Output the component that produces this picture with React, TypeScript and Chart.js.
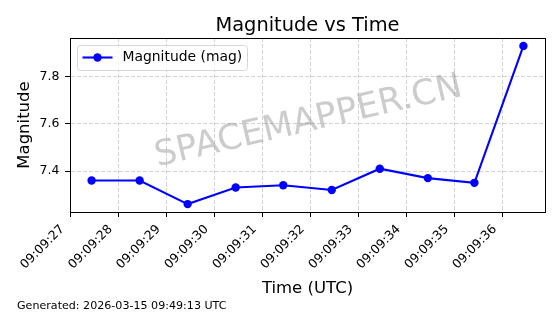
import { useEffect, useRef } from 'react';
import { Chart, registerables } from 'chart.js';

Chart.register(...registerables);

// ---- data ----
const chartTitle = 'Magnitude vs Time';
const seriesLabel = 'Magnitude (mag)';
const xAxisTitle = 'Time (UTC)';
const yAxisTitle = 'Magnitude';
const footerText = 'Generated: 2026-03-15 09:49:13 UTC';
const watermarkText = 'SPACEMAPPER.CN';
// seconds after 09:09:00 UTC
const timeSeconds = [27.44, 28.44, 29.44, 30.44, 31.43, 32.44, 33.44, 34.44, 35.41, 36.43];
const magnitudes = [7.36, 7.36, 7.26, 7.33, 7.34, 7.32, 7.41, 7.37, 7.35, 7.93];
const xTickSeconds = [27, 28, 29, 30, 31, 32, 33, 34, 35, 36];
const xTickLabels = ['09:09:27', '09:09:28', '09:09:29', '09:09:30', '09:09:31', '09:09:32', '09:09:33', '09:09:34', '09:09:35', '09:09:36'];
const yTickValues = [7.4, 7.6, 7.8];
const yTickLabels = ['7.4', '7.6', '7.8'];

const FONT = "'DejaVu Sans', sans-serif";
const BLUE = '#0000ff';
const GRID = 'rgba(180,180,180,0.75)';

function paddedRange(vals: number[]) {
  const lo = Math.min(...vals);
  const hi = Math.max(...vals);
  const m = (hi - lo) * 0.05;
  return [lo - m, hi + m];
}

const decorPlugin = {
  id: 'decor',
  beforeDatasetsDraw(chart: any) {
    const { ctx, chartArea: a } = chart;
    ctx.save();
    ctx.translate((a.left + a.right) / 2 + 1, (a.top + a.bottom) / 2 - 3);
    ctx.rotate((-13 * Math.PI) / 180);
    ctx.font = `35px ${FONT}`;
    ctx.fillStyle = 'rgba(128,128,128,0.4)';
    ctx.textAlign = 'center';
    ctx.textBaseline = 'middle';
    ctx.fillText(watermarkText, 0, 0);
    ctx.restore();
  },
  afterDatasetsDraw(chart: any) {
    const { ctx, chartArea: a } = chart;
    ctx.save();
    // frame
    ctx.strokeStyle = '#000';
    ctx.lineWidth = 1;
    ctx.strokeRect(a.left + 0.5, a.top + 0.5, a.right - a.left, a.bottom - a.top);
    // legend
    const lx = a.left + 7.5;
    const ly = a.top + 7.5;
    const lw = 170;
    const lh = 25;
    ctx.beginPath();
    const r = 3;
    ctx.moveTo(lx + r, ly);
    ctx.lineTo(lx + lw - r, ly);
    ctx.arcTo(lx + lw, ly, lx + lw, ly + r, r);
    ctx.lineTo(lx + lw, ly + lh - r);
    ctx.arcTo(lx + lw, ly + lh, lx + lw - r, ly + lh, r);
    ctx.lineTo(lx + r, ly + lh);
    ctx.arcTo(lx, ly + lh, lx, ly + lh - r, r);
    ctx.lineTo(lx, ly + r);
    ctx.arcTo(lx, ly, lx + r, ly, r);
    ctx.closePath();
    ctx.fillStyle = 'rgba(255,255,255,0.8)';
    ctx.fill();
    ctx.strokeStyle = '#d6d6d6';
    ctx.lineWidth = 1;
    ctx.stroke();
    const cy = ly + 12;
    ctx.strokeStyle = BLUE;
    ctx.lineWidth = 2.1;
    ctx.beginPath();
    ctx.moveTo(lx + 5, cy);
    ctx.lineTo(lx + 35, cy);
    ctx.stroke();
    ctx.fillStyle = BLUE;
    ctx.beginPath();
    ctx.arc(lx + 20, cy, 4.2, 0, Math.PI * 2);
    ctx.fill();
    ctx.fillStyle = '#000';
    ctx.font = `13.9px ${FONT}`;
    ctx.textAlign = 'left';
    ctx.textBaseline = 'middle';
    ctx.fillText(seriesLabel, lx + 45, cy);
    ctx.restore();
  },
  afterDraw(chart: any) {
    const { ctx, chartArea: a } = chart;
    ctx.save();
    ctx.fillStyle = '#000';
    ctx.font = `19.4px ${FONT}`;
    ctx.textAlign = 'center';
    ctx.textBaseline = 'alphabetic';
    ctx.fillText(chartTitle, (a.left + a.right) / 2, 31);
    ctx.font = `11.1px ${FONT}`;
    ctx.textAlign = 'left';
    ctx.fillText(footerText, 17, 309);
    ctx.restore();
  },
};

export default function App() {
  const ref = useRef<HTMLCanvasElement>(null);
  useEffect(() => {
    document.body.style.margin = '0';
    const [xMin, xMax] = paddedRange(timeSeconds);
    const [yMin, yMax] = paddedRange(magnitudes);
    const chart = new Chart(ref.current as HTMLCanvasElement, {
      type: 'line',
      data: {
        datasets: [
          {
            label: seriesLabel,
            data: timeSeconds.map((t, i) => ({ x: t, y: magnitudes[i] })),
            borderColor: BLUE,
            backgroundColor: BLUE,
            borderWidth: 2.1,
            pointRadius: 4.2,
            pointBorderWidth: 0,
            pointBackgroundColor: BLUE,
            tension: 0,
            clip: false as any,
          },
        ],
      },
      options: {
        responsive: false,
        animation: false,
        devicePixelRatio: 1,
        layout: { padding: { top: 38, right: 15, left: 0, bottom: 0 } },
        plugins: {
          legend: { display: false },
          title: { display: false },
          tooltip: { enabled: false },
        },
        scales: {
          x: {
            type: 'linear',
            min: xMin,
            max: xMax,
            afterBuildTicks: (s: any) => {
              s.ticks = xTickSeconds.map((v) => ({ value: v }));
            },
            afterFit: (s: any) => {
              s.height = 102;
            },
            ticks: {
              autoSkip: false,
              minRotation: 45,
              maxRotation: 45,
              padding: 5,
              labelOffset: -8,
              color: '#000',
              font: { family: FONT, size: 12.5 },
              callback: (_v: any, i: number) => xTickLabels[i],
            },
            grid: {
              color: GRID,
              lineWidth: 0.8,
              tickColor: '#000',
              tickLength: 5,
              tickWidth: 1,
              tickBorderDash: [],
            } as any,
            border: { display: true, color: '#000', width: 1, dash: [4, 2] },
            title: {
              display: true,
              text: xAxisTitle,
              color: '#000',
              font: { family: FONT, size: 16.5 },
              padding: { top: 15, bottom: 15 },
            },
          },
          y: {
            type: 'linear',
            min: yMin,
            max: yMax,
            afterBuildTicks: (s: any) => {
              s.ticks = yTickValues.map((v) => ({ value: v }));
            },
            afterFit: (s: any) => {
              s.width = 70;
            },
            ticks: {
              padding: 5.5,
              color: '#000',
              font: { family: FONT, size: 12.5 },
              callback: (_v: any, i: number) => yTickLabels[i],
            },
            grid: {
              color: GRID,
              lineWidth: 0.8,
              tickColor: '#000',
              tickLength: 5,
              tickWidth: 1,
              tickBorderDash: [],
            } as any,
            border: { display: true, color: '#000', width: 1, dash: [4, 2] },
            title: {
              display: true,
              text: yAxisTitle,
              color: '#000',
              font: { family: FONT, size: 16.5 },
              padding: { top: 15, bottom: 0 },
            },
          },
        },
      } as any,
      plugins: [decorPlugin],
    });
    return () => chart.destroy();
  }, []);
  return (
    <div style={{ width: 560, height: 314 }}>
      <canvas ref={ref} width={560} height={314} style={{ display: 'block' }} />
    </div>
  );
}
